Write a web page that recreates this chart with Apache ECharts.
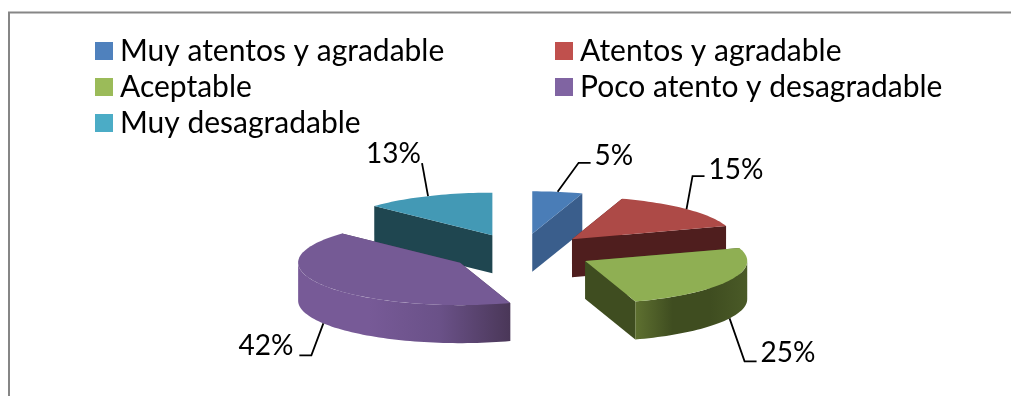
<!DOCTYPE html>
<html><head><meta charset="utf-8">
<style>html,body{margin:0;padding:0;background:#fff}#c{width:1011px;height:396px}</style>
<script src="https://cdn.jsdelivr.net/npm/echarts@6/dist/echarts.min.js"></script>
</head><body><div id="c"></div>
<script>
var categories = ['Muy atentos y agradable','Atentos y agradable','Aceptable','Poco atento y desagradable','Muy desagradable'];
var percentages = [5,15,25,42,13];

var FONT = 'Lato';
var CX = 521, CY = 252.5, RX = 162, RY = 42.5, DEPTH = 38, EXPLODE = 0.445;
var looks = [
  {legend:'#4F81BD', top:'#4A7DB7', wall:'#3A5E8C', outer:['#3A5E8C','#3A5E8C'], elbow:[21,-29,12]},
  {legend:'#C0504D', top:'#AD4A47', wall:'#4F1E1E', outer:['#4F1E1E','#4F1E1E'], elbow:[6,-33,12]},
  {legend:'#9BBB59', top:'#8FAF53', wall:'#3F4D20', outer:['#5E7030','#3F4D20','#3F4D20','#4A5A27'], elbow:[15,43,12]},
  {legend:'#8064A2', top:'#755A95', wall:'#4A3758', outer:['#775A97','#775A97','#6A5188','#4A3758'], elbow:[-12,32,-12]},
  {legend:'#4BACC6', top:'#4399B5', wall:'#1F4650', outer:['#1F4650','#1F4650'], elbow:[-6,-33,0]}
];
var labelText = [
  {dx:4,dy:-7,align:'left'},{dx:4,dy:-6,align:'left'},{dx:4,dy:-8,align:'left'},{dx:-6,dy:-9,align:'right'},{dx:-1,dy:-9,align:'right'}
];

var total = percentages.reduce(function(a,b){return a+b;},0);
var bounds = [], acc = 0;
percentages.forEach(function(v){ bounds.push([acc/total*2*Math.PI,(acc+v)/total*2*Math.PI]); acc += v; });

function ptOn(ax,ay,t){ return [ax+RX*Math.sin(t), ay-RY*Math.cos(t)]; }
function arc(ax,ay,a,b,dy){
  var n = Math.max(2,Math.ceil((b-a)/0.03)), out = [];
  for(var i=0;i<=n;i++){ var p = ptOn(ax,ay,a+(b-a)*i/n); out.push([p[0],p[1]+(dy||0)]); }
  return out;
}
function poly(points,fill,z2){
  return {type:'polygon',z2:z2,shape:{points:points},style:{fill:fill,stroke:null}};
}
function drawSlice(i){
  var a = bounds[i][0], b = bounds[i][1], mid = (a+b)/2, k = looks[i];
  var ax = CX+EXPLODE*RX*Math.sin(mid), ay = CY-EXPLODE*RY*Math.cos(mid);
  var kids = [];
  [a,b].forEach(function(t,j){
    var p = ptOn(ax,ay,t);
    kids.push(poly([[ax,ay],p,[p[0],p[1]+DEPTH],[ax,ay+DEPTH]],k.wall,j));
  });
  var fa = Math.max(a,Math.PI/2), fb = Math.min(b,1.5*Math.PI);
  if(fb>fa){
    var up = arc(ax,ay,fa,fb,0), down = arc(ax,ay,fa,fb,DEPTH).reverse();
    var xs = up.map(function(p){return p[0];});
    var x0 = Math.min.apply(null,xs), x1 = Math.max.apply(null,xs);
    var stops = k.outer.map(function(c,n){return {offset:n/(k.outer.length-1),color:c};});
    kids.push(poly(up.concat(down),{type:'linear',global:true,x:x0,y:0,x2:x1,y2:0,colorStops:stops},3));
  }
  kids.push(poly([[ax,ay]].concat(arc(ax,ay,a,b,0)),k.top,4));
  var wallDrop = (Math.cos(mid)<0) ? DEPTH : 0;
  var s = ptOn(ax,ay,mid); s[1] += wallDrop;
  var e = [s[0]+k.elbow[0], s[1]+k.elbow[1]], f = [e[0]+k.elbow[2], e[1]];
  kids.push({type:'polyline',z2:5,shape:{points:[s,e,f]},style:{stroke:'#000',lineWidth:1.8,fill:null}});
  var lt = labelText[i];
  kids.push({type:'text',z2:6,x:f[0]+lt.dx,y:f[1]+lt.dy,style:{text:percentages[i]+'%',font:'28px '+FONT,fill:'#000',align:lt.align,verticalAlign:'middle'}});
  return {type:'group',children:kids};
}
var depthRank = percentages.map(function(v,i){ return i; }).sort(function(p,q){
  return Math.cos((bounds[q][0]+bounds[q][1])/2)-Math.cos((bounds[p][0]+bounds[p][1])/2);
});

var series = categories.map(function(name,i){
  return {
    type:'custom', name:name, coordinateSystem:'none', z:2+depthRank.indexOf(i),
    itemStyle:{color:looks[i].legend},
    data:[[percentages[i]]],
    renderItem:function(){ return drawSlice(i); },
    animation:false, silent:true
  };
});
function legendCol(names,left){
  return {orient:'vertical',left:left,top:36,itemWidth:18,itemHeight:18,itemGap:6,
    icon:'rect',selectedMode:false,padding:0,
    textStyle:{fontFamily:FONT,fontSize:30,color:'#000',padding:[0,0,0,2]},
    data:names};
}
var chart = echarts.init(document.getElementById('c'),null,{renderer:'canvas'});
chart.setOption({
  backgroundColor:'#fff',animation:false,
  legend:[legendCol([categories[0],categories[2],categories[4]],95),legendCol([categories[1],categories[3]],555)],
  graphic:[{type:'rect',silent:true,shape:{x:9,y:12.5,width:1200,height:600},style:{fill:null,stroke:'#868686',lineWidth:2}}],
  series:series
});
</script></body></html>
